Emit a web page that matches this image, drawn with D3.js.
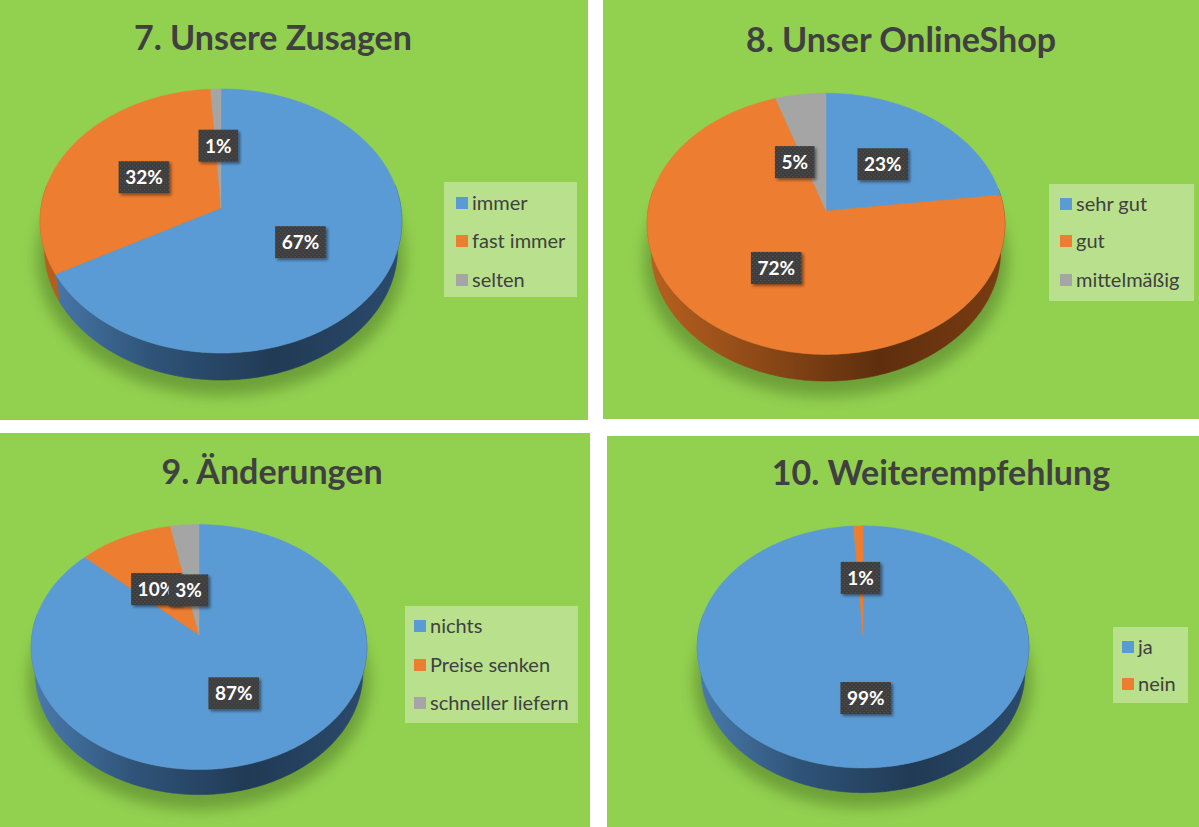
<!DOCTYPE html>
<html>
<head>
<meta charset="utf-8">
<script src="https://cdn.jsdelivr.net/npm/d3@7"></script>
<style>
  body { margin: 0; background: #fff; }
  svg { display: block; }
</style>
</head>
<body>
<svg id="chart" width="1199" height="827"></svg>
<script>
// Data
const titles = ["7. Unsere Zusagen", "8. Unser OnlineShop", "9. Änderungen", "10. Weiterempfehlung"];
const zusagenCats = ["immer", "fast immer", "selten"];
const zusagenVals = [67, 32, 1];
const shopCats = ["sehr gut", "gut", "mittelmäßig"];
const shopVals = [23, 72, 5];
const aenderCats = ["nichts", "Preise senken", "schneller liefern"];
const aenderVals = [87, 10, 3];
const empfCats = ["ja", "nein"];
const empfVals = [99, 1];

const seriesColors = ["#5b9bd5", "#ed7d31", "#a5a5a5"];
// side shading: [light, mid, dark, end]
const sideColors = [
  ["#4a7bad", "#2f5479", "#213a55", "#2b4a6c"],
  ["#b8611f", "#8f4a17", "#5e2e0d", "#7a3c12"],
  ["#8a8a8a", "#6c6c6c", "#4a4a4a", "#606060"]
];

// Layout
const panels = [
  {x: 0, y: 0, w: 588, h: 420, tx: 273, ty: 50, cx: 221, cy: 208, s: 180,
   lg: {x: 444, y: 182, w: 133, h: 115, sx: 456, rows: [203, 241, 280]}, nudge: {}},
  {x: 603, y: 0, w: 596, h: 419, tx: 901, ty: 52, cx: 826, cy: 211, s: 178,
   lg: {x: 1049, y: 184, w: 145, h: 117, sx: 1060, rows: [204, 241, 280]}, nudge: {2: [-18, 12]}},
  {x: 0, y: 433, w: 590, h: 394, tx: 272, ty: 484, cx: 199, cy: 635, s: 167,
   lg: {x: 405, y: 606, w: 173, h: 117, sx: 414, rows: [626, 665, 703]}, nudge: {1: [-4, 5], 2: [-3, 13]}},
  {x: 607, y: 436, w: 592, h: 391, tx: 941, ty: 485, cx: 863, cy: 635, s: 165,
   lg: {x: 1113, y: 627, w: 75, h: 76, sx: 1122, rows: [647, 684]}, nudge: {}}
];
const chartData = [
  [zusagenCats, zusagenVals],
  [shopCats, shopVals],
  [aenderCats, aenderVals],
  [empfCats, empfVals]
];

// 3D projection of the disc
const tilt = 46.6 * Math.PI / 180;
const persp = 0.143;
const thick = 0.23;
const cosA = Math.cos(tilt), sinA = Math.sin(tilt);

function proj(pn, th, r, Y) {
  const X = r * Math.sin(th), Z = r * Math.cos(th);
  const d = 1 + persp * (Z * cosA - Y * sinA);
  return [pn.cx + pn.s * X / d, pn.cy - pn.s * (Y * cosA + Z * sinA) / d];
}
function arcPts(pn, a0, a1, r, Y) {
  const n = Math.max(2, Math.ceil((a1 - a0) / 0.01));
  return d3.range(n + 1).map(i => proj(pn, a0 + (a1 - a0) * i / n, r, Y));
}

const svg = d3.select("#chart");
const defs = svg.append("defs");

const dots = defs.append("pattern").attr("id", "dots")
  .attr("width", 4).attr("height", 4).attr("patternUnits", "userSpaceOnUse");
dots.append("rect").attr("width", 4).attr("height", 4).attr("fill", "#3e3e3e");
dots.append("rect").attr("width", 1).attr("height", 1).attr("fill", "#5a5a5a");
dots.append("rect").attr("x", 2).attr("y", 2).attr("width", 1).attr("height", 1).attr("fill", "#555");

defs.append("filter").attr("id", "lblShadow").attr("x", "-20%").attr("y", "-20%").attr("width", "150%").attr("height", "150%")
  .append("feDropShadow").attr("dx", 2).attr("dy", 2).attr("stdDeviation", 1.5)
  .attr("flood-color", "#000").attr("flood-opacity", 0.45);
defs.append("filter").attr("id", "pieShadow").attr("x", "-20%").attr("y", "-20%").attr("width", "140%").attr("height", "140%")
  .append("feGaussianBlur").attr("stdDeviation", 7);

const line = d3.line();
const pie = d3.pie().sort(null).value(d => d.v);

panels.forEach((pn, pi) => {
  const [cats, vals] = chartData[pi];
  const data = cats.map((c, i) => ({c, v: vals[i], i}));
  const arcs = pie(data);
  const g = svg.append("g");

  g.append("rect").attr("x", pn.x).attr("y", pn.y).attr("width", pn.w).attr("height", pn.h)
    .attr("fill", "#92d050");

  g.append("text").attr("x", pn.tx).attr("y", pn.ty)
    .attr("text-anchor", "middle")
    .style("font-family", "Lato, 'Open Sans', sans-serif")
    .style("font-weight", 700).style("font-size", "34px")
    .attr("fill", "#404040")
    .text(titles[pi]);

  // gradients for side walls
  cats.forEach((c, i) => {
    const gr = defs.append("linearGradient").attr("id", `side${pi}_${i}`)
      .attr("gradientUnits", "userSpaceOnUse")
      .attr("x1", pn.cx - pn.s).attr("x2", pn.cx + pn.s).attr("y1", 0).attr("y2", 0);
    const sc = sideColors[i];
    [[0, sc[0]], [0.3, sc[1]], [0.65, sc[2]], [1, sc[3]]].forEach(([o, col]) =>
      gr.append("stop").attr("offset", o).attr("stop-color", col));
  });

  // soft shadow under the pie
  const shadowPts = arcPts(pn, 0, 2 * Math.PI, 1.04, -thick).map(([x, y]) => [x, y + 9]);
  g.append("path").attr("d", line(shadowPts) + "Z")
    .attr("fill", "#2a4a10").attr("opacity", 0.35).attr("filter", "url(#pieShadow)");

  // side walls (front half)
  const lo = 80 * Math.PI / 180, hi = 280 * Math.PI / 180;
  arcs.forEach(a => {
    const a0 = Math.max(a.startAngle, lo), a1 = Math.min(a.endAngle, hi);
    if (a1 <= a0) return;
    const pts = arcPts(pn, a0, a1, 1, 0).concat(arcPts(pn, a0, a1, 1, -thick).reverse());
    g.append("path").attr("d", line(pts) + "Z")
      .attr("fill", `url(#side${pi}_${a.data.i})`)
      .attr("stroke", `url(#side${pi}_${a.data.i})`).attr("stroke-width", 0.6);
  });

  // top faces
  arcs.forEach(a => {
    const pts = [proj(pn, 0, 0, 0)].concat(arcPts(pn, a.startAngle, a.endAngle, 1, 0));
    g.append("path").attr("d", line(pts) + "Z")
      .attr("fill", seriesColors[a.data.i])
      .attr("stroke", seriesColors[a.data.i]).attr("stroke-width", 0.5);
  });

  // data labels
  arcs.forEach(a => {
    const mid = (a.startAngle + a.endAngle) / 2;
    let [lx, ly] = proj(pn, mid, 0.5, 0);
    const nd = pn.nudge[a.data.i];
    if (nd) { lx += nd[0]; ly += nd[1]; }
    const lg = g.append("g").attr("transform", `translate(${lx},${ly})`);
    const txt = `${a.data.v}%`;
    const t = lg.append("text").attr("text-anchor", "middle").attr("y", 7)
      .style("font-family", "Lato, 'Open Sans', sans-serif")
      .style("font-weight", 700).style("font-size", "19px")
      .attr("fill", "#fff").text(txt);
    const tw = t.node().getComputedTextLength();
    const bw = tw + 13, bh = 32;
    lg.insert("rect", "text").attr("x", -bw / 2).attr("y", -bh / 2).attr("width", bw).attr("height", bh)
      .attr("fill", "url(#dots)").attr("filter", "url(#lblShadow)");
  });

  // legend
  const L = pn.lg;
  g.append("rect").attr("x", L.x).attr("y", L.y).attr("width", L.w).attr("height", L.h)
    .attr("fill", "#fff").attr("opacity", 0.35);
  cats.forEach((c, i) => {
    g.append("rect").attr("x", L.sx).attr("y", L.rows[i] - 6).attr("width", 12).attr("height", 12)
      .attr("fill", seriesColors[i]);
    g.append("text").attr("x", L.sx + 16).attr("y", L.rows[i] + 7)
      .style("font-family", "Lato, 'Open Sans', sans-serif")
      .style("font-size", "20px").attr("fill", "#404040").text(c);
  });
});
</script>
</body>
</html>
